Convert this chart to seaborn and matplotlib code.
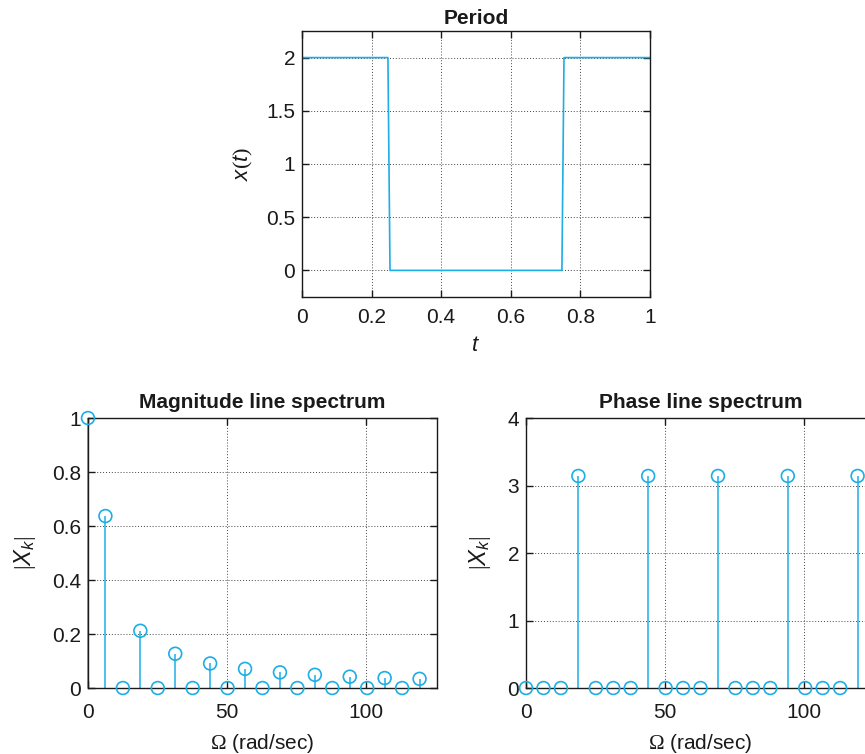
import numpy as np
import pandas as pd
import matplotlib
matplotlib.use("Agg")
import matplotlib.pyplot as plt
import seaborn as sns

# ---- data ----
t_vals = [0.0, 0.247, 0.253, 0.747, 0.753, 1.0]
x_vals = [2.0, 2.0, 0.0, 0.0, 2.0, 2.0]

omega = [0.0, 6.28, 12.57, 18.85, 25.13, 31.42, 37.70, 43.98, 50.27, 56.55,
         62.83, 69.12, 75.40, 81.68, 87.96, 94.25, 100.53, 106.81, 113.10, 119.38]
magnitude = [1.0, 0.637, 0.0, 0.212, 0.0, 0.127, 0.0, 0.091, 0.0, 0.071,
             0.0, 0.058, 0.0, 0.049, 0.0, 0.042, 0.0, 0.037, 0.0, 0.034]
phase = [0.0, 0.0, 0.0, 3.1416, 0.0, 0.0, 0.0, 3.1416, 0.0, 0.0,
         0.0, 3.1416, 0.0, 0.0, 0.0, 3.1416, 0.0, 0.0, 0.0, 3.1416]

top_xticks = [0, 0.2, 0.4, 0.6, 0.8, 1]
top_xticklabels = ["0", "0.2", "0.4", "0.6", "0.8", "1"]
top_yticks = [0, 0.5, 1, 1.5, 2]
top_yticklabels = ["0", "0.5", "1", "1.5", "2"]
mag_yticks = [0, 0.2, 0.4, 0.6, 0.8, 1]
mag_yticklabels = ["0", "0.2", "0.4", "0.6", "0.8", "1"]
ph_yticks = [0, 1, 2, 3, 4]
om_xticks = [0, 50, 100]

sig = pd.DataFrame({"t": t_vals, "x": x_vals})
spec = pd.DataFrame({"omega": omega, "mag": magnitude, "phase": phase})

# ---- style ----
sns.set_theme(style="ticks")
plt.rcParams["font.family"] = ["Liberation Sans", "DejaVu Sans"]
plt.rcParams["mathtext.fontset"] = "custom"
plt.rcParams["mathtext.rm"] = "Liberation Serif"
plt.rcParams["mathtext.it"] = "Liberation Sans:italic"
plt.rcParams["mathtext.bf"] = "Liberation Sans:bold"

COLOR = "#1CAEE4"
FS = 15
TXT = "#1a1a1a"

fig = plt.figure(figsize=(8.65, 7.54), dpi=100)
ax_top = fig.add_axes([0.3491, 0.6061, 0.4023, 0.3528])
ax_mag = fig.add_axes([0.1017, 0.0875, 0.4035, 0.3581])
ax_ph = fig.add_axes([0.6081, 0.0875, 0.4035, 0.3581])


def style_axes(ax, xpad=9):
    ax.grid(True, linestyle=(0, (1, 2)), color="#444444", linewidth=0.7)
    ax.set_axisbelow(True)
    for s in ax.spines.values():
        s.set_visible(True)
        s.set_color(TXT)
        s.set_linewidth(1.0)
    ax.tick_params(direction="in", length=5, width=1.0, top=True, right=True,
                   labelsize=FS, colors=TXT)
    ax.tick_params(axis="x", pad=xpad)
    ax.tick_params(axis="y", pad=5)
    ax.set_facecolor("white")


# Top: period of signal
sns.lineplot(data=sig, x="t", y="x", ax=ax_top, color=COLOR, linewidth=1.2,
             estimator=None, sort=False)
ax_top.set_xlim(0, 1)
ax_top.set_ylim(-0.25, 2.25)
ax_top.set_xticks(top_xticks)
ax_top.set_xticklabels(top_xticklabels)
ax_top.set_yticks(top_yticks)
ax_top.set_yticklabels(top_yticklabels)
ax_top.set_title("Period", fontsize=FS, fontweight="bold", pad=5, color=TXT)
ax_top.set_xlabel(r"$t$", fontsize=FS + 1, labelpad=6, color=TXT)
ax_top.set_ylabel(r"$x(t)$", fontsize=FS + 1, labelpad=8, color=TXT)
style_axes(ax_top, xpad=8)

# Bottom left: magnitude
ax_mag.vlines(spec["omega"], 0, spec["mag"], color=COLOR, linewidth=1.1, clip_on=False)
sns.scatterplot(data=spec, x="omega", y="mag", ax=ax_mag, marker="o", s=85,
                facecolors="none", edgecolor=COLOR, linewidth=1.2, clip_on=False, zorder=5)
ax_mag.set_xlim(0, 125.66)
ax_mag.set_ylim(0, 1)
ax_mag.set_xticks(om_xticks)
ax_mag.set_yticks(mag_yticks)
ax_mag.set_yticklabels(mag_yticklabels)
ax_mag.set_title("Magnitude line spectrum", fontsize=FS, fontweight="bold", pad=7, color=TXT)
ax_mag.set_xlabel(r"$\Omega$ (rad/sec)", fontsize=FS, labelpad=7, color=TXT)
ax_mag.set_ylabel(r"$|X_k|$", fontsize=FS + 2, labelpad=10, color=TXT)
style_axes(ax_mag, xpad=11)

# Bottom right: phase
ax_ph.vlines(spec["omega"], 0, spec["phase"], color=COLOR, linewidth=1.1, clip_on=False)
sns.scatterplot(data=spec, x="omega", y="phase", ax=ax_ph, marker="o", s=85,
                facecolors="none", edgecolor=COLOR, linewidth=1.2, clip_on=False, zorder=5)
ax_ph.set_xlim(0, 125.66)
ax_ph.set_ylim(0, 4)
ax_ph.set_xticks(om_xticks)
ax_ph.set_yticks(ph_yticks)
ax_ph.set_title("Phase line spectrum", fontsize=FS, fontweight="bold", pad=7, color=TXT)
ax_ph.set_xlabel(r"$\Omega$ (rad/sec)", fontsize=FS, labelpad=7, color=TXT)
ax_ph.set_ylabel(r"$|X_k|$", fontsize=FS + 2, labelpad=10, color=TXT)
style_axes(ax_ph, xpad=11)

fig.savefig("out.png", dpi=100)
